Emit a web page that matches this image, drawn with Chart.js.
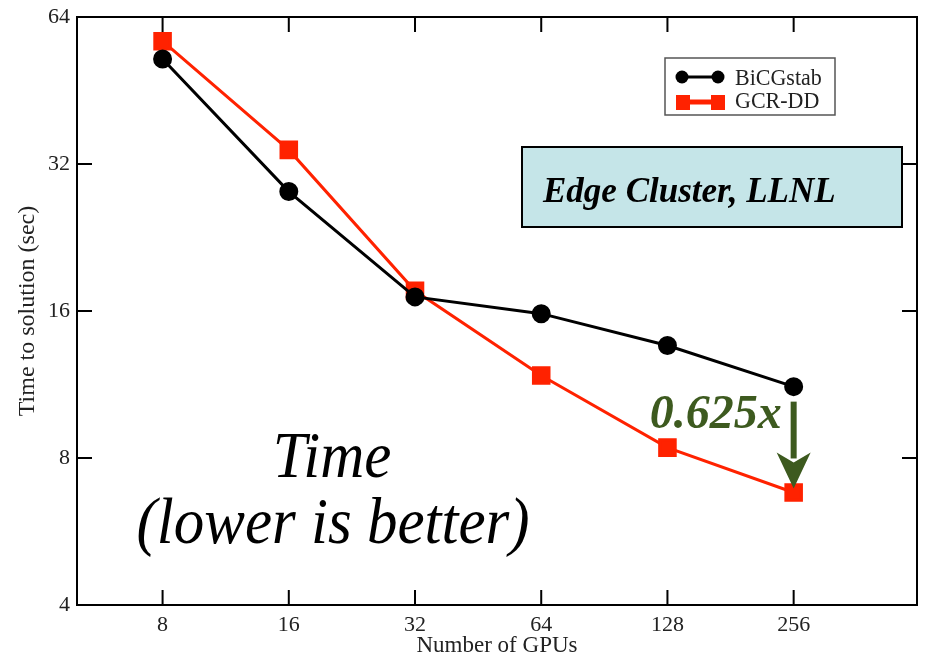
<!DOCTYPE html>
<html>
<head>
<meta charset="utf-8">
<script src="https://cdn.jsdelivr.net/npm/chart.js@4.4.1/dist/chart.umd.min.js"></script>
<style>
  html, body { margin: 0; padding: 0; background: #fff; }
  #wrap { width: 926px; height: 660px; }
</style>
</head>
<body>
<div id="wrap"><canvas id="mycanvas"></canvas></div>
<script>
const gpus = [8, 16, 32, 64, 128, 256];
const bicgstab = [52.5, 28.1, 17.1, 15.8, 13.6, 11.2];
const gcrdd = [57.1, 34.2, 17.6, 11.8, 8.4, 6.8];
const yTicks = [4, 8, 16, 32, 64];
const xTicks = [8, 16, 32, 64, 128, 256];

const SERIF = '"Liberation Serif", "DejaVu Serif", serif';
const GREEN = '#3d5a1f';
const RED = '#ff2200';

const toPoints = function (ys) {
    return gpus.map((g, i) => ({x: g, y: ys[i]}));
};

// text drawn a little taller than wide, like the slide
const tallText = function (ctx, txt, x, y, sy) {
    ctx.save();
    ctx.translate(x, y);
    ctx.scale(1, sy);
    ctx.fillText(txt, 0, 0);
    ctx.restore();
};

// box, mirrored inward ticks, legend and the text notes
const decorations = {
    id: 'decorations',
    afterDraw(chart) {
        const ctx = chart.ctx;
        const a = chart.chartArea;
        const xs = chart.scales.x, ys = chart.scales.y;
        ctx.save();
        ctx.strokeStyle = '#000';
        ctx.lineWidth = 2;
        ctx.strokeRect(a.left, a.top, a.right - a.left, a.bottom - a.top);
        const tl = 15;
        ctx.beginPath();
        xTicks.forEach(v => {
            const px = xs.getPixelForValue(v);
            ctx.moveTo(px, a.bottom); ctx.lineTo(px, a.bottom - tl);
            ctx.moveTo(px, a.top); ctx.lineTo(px, a.top + tl);
        });
        yTicks.forEach(v => {
            const py = ys.getPixelForValue(v);
            ctx.moveTo(a.left, py); ctx.lineTo(a.left + tl, py);
            ctx.moveTo(a.right, py); ctx.lineTo(a.right - tl, py);
        });
        ctx.stroke();

        // legend
        ctx.fillStyle = '#fff';
        ctx.fillRect(665, 58, 170, 57);
        ctx.strokeStyle = '#555';
        ctx.lineWidth = 1.5;
        ctx.strokeRect(665, 58, 170, 57);
        ctx.lineWidth = 3;
        ctx.strokeStyle = '#000';
        ctx.beginPath(); ctx.moveTo(682, 77); ctx.lineTo(718, 77); ctx.stroke();
        ctx.fillStyle = '#000';
        [682, 718].forEach(x => { ctx.beginPath(); ctx.arc(x, 77, 6.5, 0, Math.PI * 2); ctx.fill(); });
        ctx.strokeStyle = RED;
        ctx.lineWidth = 5;
        ctx.beginPath(); ctx.moveTo(682, 102); ctx.lineTo(718, 102); ctx.stroke();
        ctx.fillStyle = RED;
        [683, 718].forEach(x => ctx.fillRect(x - 7, 95, 14, 15));
        ctx.fillStyle = '#222';
        ctx.font = '22px ' + SERIF;
        ctx.textAlign = 'left';
        tallText(ctx, chart.data.datasets[0].label, 735, 85, 1.05);
        tallText(ctx, chart.data.datasets[1].label, 735, 108, 1.05);

        // cluster label
        ctx.fillStyle = '#c5e5e8';
        ctx.fillRect(522, 147, 380, 80);
        ctx.strokeStyle = '#000';
        ctx.lineWidth = 2;
        ctx.strokeRect(522, 147, 380, 80);
        ctx.fillStyle = '#000';
        ctx.font = 'italic bold 35px ' + SERIF;
        ctx.fillText('Edge Cluster, LLNL', 543, 202);

        // big note
        ctx.font = 'italic 61px ' + SERIF;
        ctx.textAlign = 'center';
        tallText(ctx, 'Time', 332, 477, 1.06);
        tallText(ctx, '(lower is better)', 333, 543, 1.06);

        // speedup note and arrow
        const ax = xs.getPixelForValue(256);
        const y0 = ys.getPixelForValue(bicgstab[5]) + 15;
        const y1 = ys.getPixelForValue(gcrdd[5]) - 4;
        ctx.fillStyle = GREEN;
        ctx.font = 'italic bold 48px ' + SERIF;
        ctx.textAlign = 'right';
        ctx.fillText('0.625x', ax - 12, 428);
        ctx.fillRect(ax - 3, y0, 6, y1 - y0 - 30);
        ctx.beginPath();
        ctx.moveTo(ax - 17, y1 - 36);
        ctx.lineTo(ax, y1 - 26);
        ctx.lineTo(ax + 17, y1 - 36);
        ctx.lineTo(ax, y1);
        ctx.closePath();
        ctx.fill();
        ctx.restore();
    }
};

// keep the plot box where the slide has it
const noEdgePad = function (s) {
    s.paddingLeft = 0; s.paddingRight = 0;
    s.paddingTop = 0; s.paddingBottom = 0;
};

const chartDataSet = {
    type: 'line',
    data: {
        datasets: [{
            label: 'BiCGstab',
            data: toPoints(bicgstab),
            borderColor: '#000',
            backgroundColor: '#000',
            borderWidth: 3,
            pointStyle: 'circle',
            pointRadius: 8,
            pointHoverRadius: 8
        }, {
            label: 'GCR-DD',
            data: toPoints(gcrdd),
            borderColor: RED,
            backgroundColor: RED,
            borderWidth: 3,
            pointStyle: 'rect',
            pointRadius: 11,
            pointHoverRadius: 11
        }]
    },
    options: {
        responsive: false,
        animation: false,
        events: [],
        layout: {autoPadding: false, padding: {top: 17, right: 9, left: 0, bottom: 0}},
        plugins: {legend: {display: false}, tooltip: {enabled: false}},
        scales: {
            x: {
                type: 'logarithmic',
                min: 5,
                max: 504,
                afterBuildTicks: s => { s.ticks = xTicks.map(v => ({value: v})); },
                afterFit: s => { s.height = 55; noEdgePad(s); },
                grid: {display: false, drawTicks: false},
                border: {display: false},
                ticks: {
                    color: '#222',
                    padding: 7,
                    maxRotation: 0,
                    autoSkip: false,
                    font: {family: SERIF, size: 22},
                    callback: v => String(v)
                },
                title: {
                    display: true,
                    text: 'Number of GPUs',
                    color: '#222',
                    padding: {top: 3, bottom: 0},
                    font: {family: SERIF, size: 23}
                }
            },
            y: {
                type: 'logarithmic',
                min: 4,
                max: 64,
                afterBuildTicks: s => { s.ticks = yTicks.map(v => ({value: v})); },
                afterFit: s => { s.width = 77; noEdgePad(s); },
                grid: {display: false, drawTicks: false},
                border: {display: false},
                ticks: {
                    color: '#222',
                    padding: 7,
                    autoSkip: false,
                    font: {family: SERIF, size: 22},
                    callback: v => String(v)
                },
                title: {
                    display: true,
                    text: 'Time to solution (sec)',
                    color: '#222',
                    padding: {top: 13, bottom: 0},
                    font: {family: SERIF, size: 24}
                }
            }
        }
    },
    plugins: [decorations]
};

window.onload = function () {
    const canvas = document.getElementById('mycanvas');
    canvas.width = 926;
    canvas.height = 660;
    new Chart(canvas.getContext('2d'), chartDataSet);
};
</script>
</body>
</html>
